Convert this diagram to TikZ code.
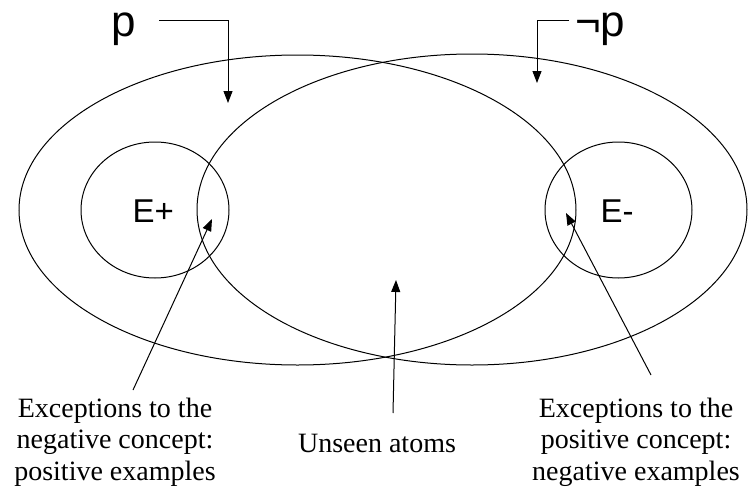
\documentclass[tikz,border=0pt]{standalone}
\usepackage{fontspec}
\setmainfont{Liberation Serif}
\setsansfont{Liberation Sans}
\usetikzlibrary{shapes.geometric,arrows.meta}
\begin{document}
\begin{tikzpicture}[x=1pt,y=-1pt,
  region/.style={draw,ellipse,line width=1pt,inner sep=0pt},
  arr/.style={line width=1pt,-{Triangle[length=12pt,width=9pt]}},
  lbl/.style={font=\fontsize{28}{31.5}\selectfont,align=center,inner sep=0pt},
  sym/.style={font=\sffamily\fontsize{44}{44}\selectfont,inner sep=0pt,anchor=base west},
  esym/.style={font=\sffamily\fontsize{33}{33}\selectfont,inner sep=0pt,anchor=base west}]
\useasboundingbox (0,0) rectangle (748,493);
% large regions
\node[region,minimum width=557pt,minimum height=310pt] (P) at (297.5,210) {};
\node[region,minimum width=550pt,minimum height=311pt] (N) at (472,209.5) {};
% exception circles
\node[region,minimum width=148pt,minimum height=136pt] (Ep) at (155,210) {};
\node[region,minimum width=147pt,minimum height=136pt] (Em) at (618.5,210) {};
\node[esym] (Ept) at (132.5,222) {E+};
\node[esym] (Emt) at (600.5,222) {E-};
% p and not p
\node[sym] (p) at (111,36) {p};
\node[sym] (np) at (575,36) {¬p};
\coordinate (pa) at (159,20);
\coordinate (pb) at (228,20);
\coordinate (pc) at (228,103);
\coordinate (na) at (569,20);
\coordinate (nb) at (537,20);
\coordinate (nc) at (537,83);
\draw[arr] (pa) -- (pb) -- (pc);
\draw[arr] (na) -- (nb) -- (nc);
% bottom labels
\node[lbl] (L) at (115,442) {Exceptions to the\\negative concept:\\positive examples};
\node[lbl] (U) at (377,443) {Unseen atoms};
\node[lbl] (R) at (636,442) {Exceptions to the\\positive concept:\\negative examples};
\coordinate (la) at (133,390);
\coordinate (lt) at (212,219);
\coordinate (ua) at (393,413);
\coordinate (ut) at (396,280);
\coordinate (ra) at (651,375);
\coordinate (rt) at (566,213);
\draw[arr] (la) -- (lt);
\draw[arr] (ua) -- (ut);
\draw[arr] (ra) -- (rt);
\end{tikzpicture}
\end{document}
